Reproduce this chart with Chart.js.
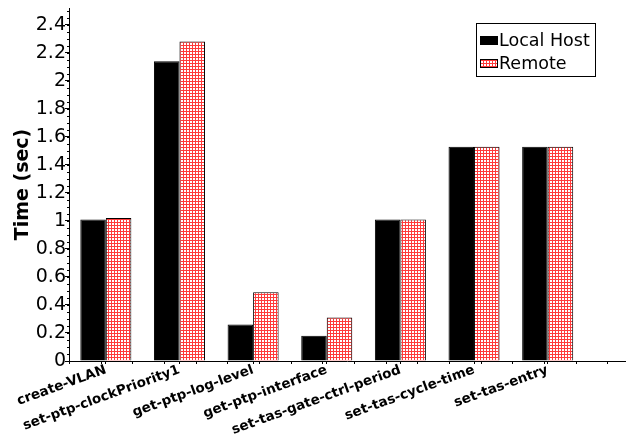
<!DOCTYPE html>
<html lang="en">
<head>
    <meta charset="UTF-8">
    <title>Time (sec)</title>
    <script src="https://cdn.jsdelivr.net/npm/chart.js"></script>
    <style>
        body {
            margin: 0;
            background: #fff;
        }
    </style>
</head>
<body>
    <canvas id="barChart" width="629" height="438"></canvas>

    <script>
        // data
        const categories = ['create-VLAN', 'set-ptp-clockPriority1', 'get-ptp-log-level', 'get-ptp-interface',
            'set-tas-gate-ctrl-period', 'set-tas-cycle-time', 'set-tas-entry'];
        const localHost = [1.01, 2.14, 0.26, 0.18, 1.01, 1.53, 1.53];
        const remote = [1.02, 2.28, 0.49, 0.31, 1.01, 1.53, 1.53];
        const yTicks = [0, 0.2, 0.4, 0.6, 0.8, 1, 1.2, 1.4, 1.6, 1.8, 2, 2.2, 2.4];
        const seriesNames = ['Local Host', 'Remote'];

        // red grid hatch for the remote bars
        function makeHatch() {
            const c = document.createElement('canvas');
            c.width = 3;
            c.height = 3;
            const g = c.getContext('2d');
            g.fillStyle = '#fff';
            g.fillRect(0, 0, 3, 3);
            g.fillStyle = '#ff3a3a';
            g.fillRect(0, 0, 3, 1);
            g.fillRect(0, 0, 1, 3);
            return g.createPattern(c, 'repeat');
        }
        const hatch = makeHatch();

        // minor ticks on both axes + boxed legend
        const extras = {
            id: 'extras',
            afterDraw(chart) {
                const ctx = chart.ctx;
                const x = chart.scales.x;
                const y = chart.scales.y;
                const area = chart.chartArea;
                ctx.save();
                ctx.strokeStyle = '#000';
                ctx.lineWidth = 1;
                for (let v = 0; v <= 2.52; v += 0.05) {
                    const p = Math.round(y.getPixelForValue(v)) + 0.5;
                    ctx.beginPath();
                    ctx.moveTo(area.left - 2, p);
                    ctx.lineTo(area.left, p);
                    ctx.stroke();
                }
                for (let v = 0; v <= 7.55; v += 0.43) {
                    const p = Math.round(x.getPixelForValue(v)) + 0.5;
                    ctx.beginPath();
                    ctx.moveTo(p, area.bottom);
                    ctx.lineTo(p, area.bottom + 3);
                    ctx.stroke();
                }

                // legend box
                const bx = 476, by = 23, bw = 119, bh = 53;
                ctx.strokeRect(bx + 0.5, by + 0.5, bw, bh);
                ctx.font = '17.5px "DejaVu Sans"';
                ctx.textBaseline = 'middle';
                chart.data.datasets.forEach((ds, i) => {
                    const cy = by + 17 + i * 23;
                    ctx.fillStyle = ds.backgroundColor;
                    ctx.fillRect(bx + 4, cy - 4, 18, 9);
                    ctx.strokeRect(bx + 4.5, cy - 3.5, 17, 8);
                    ctx.fillStyle = '#000';
                    ctx.fillText(seriesNames[i], bx + 23, cy + 1);
                });
                ctx.restore();
            }
        };

        const ctx = document.getElementById('barChart').getContext('2d');
        new Chart(ctx, {
            type: 'bar',
            data: {
                datasets: [{
                    label: seriesNames[0],
                    data: localHost.map((v, i) => ({ x: i + 0.5, y: v })),
                    backgroundColor: '#000',
                    borderColor: '#000',
                    borderWidth: 1
                }, {
                    label: seriesNames[1],
                    data: remote.map((v, i) => ({ x: i + 0.5, y: v })),
                    backgroundColor: hatch,
                    borderColor: '#000',
                    borderWidth: 1
                }]
            },
            options: {
                responsive: false,
                animation: false,
                devicePixelRatio: 1,
                categoryPercentage: 0.693,
                barPercentage: 1,
                layout: { padding: { top: 8, right: 4, left: 0, bottom: 0 } },
                plugins: {
                    legend: { display: false },
                    tooltip: { enabled: false }
                },
                scales: {
                    x: {
                        type: 'linear',
                        min: 0,
                        max: 7.55,
                        offset: false,
                        afterBuildTicks: s => { s.ticks = categories.map((c, i) => ({ value: i + 0.5 })); },
                        afterFit: s => { s.height = 77; s.paddingLeft = 0; s.paddingRight = 0; },
                        ticks: {
                            callback: (v, i) => categories[i],
                            autoSkip: false,
                            minRotation: 20,
                            maxRotation: 20,
                            color: '#000',
                            padding: -2,
                            font: { family: 'DejaVu Sans', size: 13.5, weight: 'bold' }
                        },
                        grid: { drawOnChartArea: false, offset: false, tickLength: 3, color: '#000' },
                        border: { color: '#000', width: 1 }
                    },
                    y: {
                        min: 0,
                        max: 2.52,
                        afterBuildTicks: s => { s.ticks = yTicks.map(v => ({ value: v })); },
                        afterFit: s => { s.width = 69; s.paddingTop = 0; s.paddingBottom = 0; },
                        ticks: {
                            callback: v => String(+v.toFixed(1)),
                            color: '#000',
                            padding: -1,
                            font: { family: 'DejaVu Sans', size: 19 }
                        },
                        grid: { drawOnChartArea: false, tickLength: 4, color: '#000' },
                        border: { color: '#000', width: 1 },
                        title: {
                            display: true,
                            text: 'Time (sec)',
                            color: '#000',
                            padding: { top: 12, bottom: 0 },
                            font: { family: 'DejaVu Sans', size: 19, weight: 'bold' }
                        }
                    }
                }
            },
            plugins: [extras]
        });
    </script>
</body>
</html>
